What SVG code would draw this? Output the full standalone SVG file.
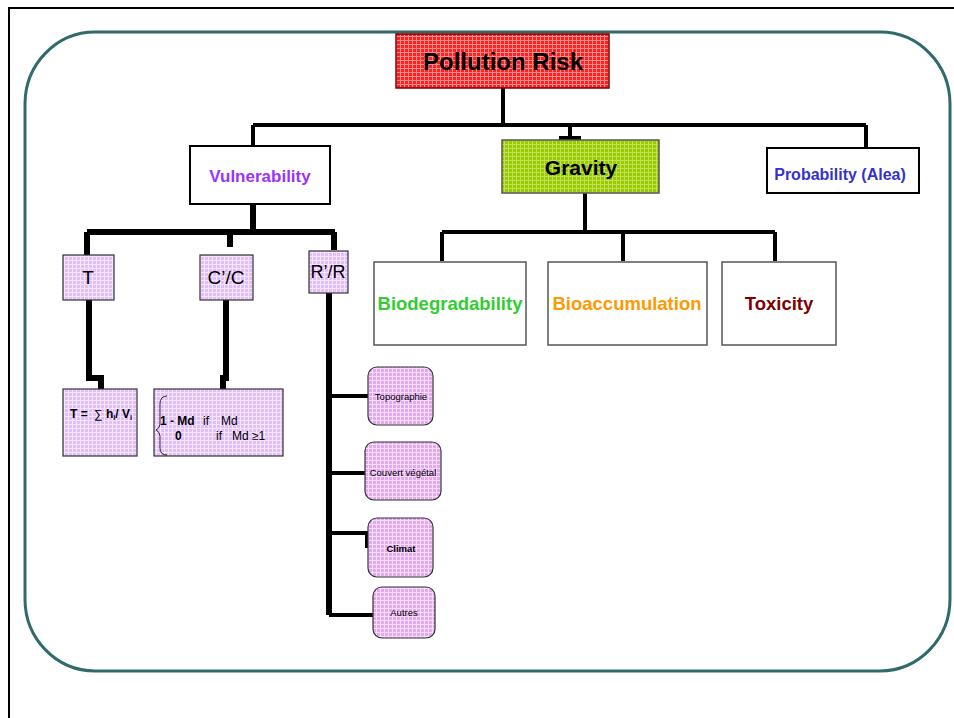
<svg xmlns="http://www.w3.org/2000/svg" width="954" height="718" viewBox="0 0 954 718">
<defs>
<pattern id="pRed" width="4" height="4" patternUnits="userSpaceOnUse">
<rect width="4" height="4" fill="#ff2020"/>
<path d="M0 0.5H4M0.5 0V4" stroke="#ff8c8c" stroke-width="1"/>
</pattern>
<pattern id="pGreen" width="4" height="4" patternUnits="userSpaceOnUse">
<rect width="4" height="4" fill="#99cc00"/>
<path d="M0 0.5H4M0.5 0V4" stroke="#c4e05a" stroke-width="1"/>
</pattern>
<pattern id="pLav" width="4" height="4" patternUnits="userSpaceOnUse">
<rect width="4" height="4" fill="#e2bff8"/>
<path d="M0 0.5H4M0.5 0V4" stroke="#f4e6ff" stroke-width="1"/>
</pattern>
<pattern id="pPink" width="4" height="4" patternUnits="userSpaceOnUse">
<rect width="4" height="4" fill="#e4a8f0"/>
<path d="M0 0.5H4M0.5 0V4" stroke="#f6defa" stroke-width="1"/>
</pattern>
</defs>
<style>
text{font-family:"Liberation Sans",Arial,sans-serif;}
.b{font-weight:bold;}
.plain{fill:#fff;stroke:#000;stroke-width:2;}
.gray{fill:#fff;stroke:#555;stroke-width:1.5;}
.lav{fill:url(#pLav);stroke:#333;stroke-width:1.2;}
.lavr{fill:url(#pPink);stroke:#333;stroke-width:1.2;}
.c4{stroke:#000;stroke-width:4;fill:none;}
.c6{stroke:#000;stroke-width:6;fill:none;}
</style>
<rect width="954" height="718" fill="#fff"/>
<path d="M9 718V8H954" fill="none" stroke="#000" stroke-width="2"/>
<rect x="25" y="32" width="925" height="639" rx="70" ry="72" fill="none" stroke="#306a6a" stroke-width="3"/>

<g id="connectors">
<path class="c4" d="M503 88V125M253 125H866M253 125V146M570 125V138M559 138H581M866 125V148"/>
<path class="c4" d="M585 193V232M442 232H775M442 232V261M623 232V261M775 232V261"/>
<path class="c6" d="M253 204V232M87 232H335M87 232V255M230 232V247M334 232V250"/>
<path class="c6" d="M89 300V378H101V389"/>
<path class="c6" d="M226 300V378H223V389"/>
<path class="c6" d="M329 293V615"/>
<path class="c4" d="M329 396H375M329 473H367M329 533H367V548M329 615H376"/>
</g>

<g id="pollution-risk">
<rect x="396" y="34" width="213" height="54" fill="url(#pRed)" stroke="#7a0000" stroke-width="1.5"/>
<text x="503" y="70" font-size="24" class="b" text-anchor="middle">Pollution Risk</text>
</g>
<g id="vulnerability">
<rect class="plain" x="190" y="146" width="140" height="58"/>
<text x="260" y="182" font-size="17" class="b" fill="#9933ff" text-anchor="middle">Vulnerability</text>
</g>
<g id="gravity">
<rect x="502" y="140" width="157" height="53" fill="url(#pGreen)" stroke="#555" stroke-width="1.5"/>
<text x="581" y="175" font-size="21" class="b" text-anchor="middle">Gravity</text>
</g>
<g id="probability">
<rect class="plain" x="767" y="148" width="152" height="45" stroke-width="1.5"/>
<text x="840" y="180" font-size="16" class="b" fill="#3333cc" text-anchor="middle">Probability (Alea)</text>
</g>
<g id="biodegradability">
<rect class="gray" x="374" y="262" width="152" height="83"/>
<text x="450" y="310" font-size="18.5" class="b" fill="#33cc33" text-anchor="middle">Biodegradability</text>
</g>
<g id="bioaccumulation">
<rect class="gray" x="548" y="262" width="159" height="83"/>
<text x="627" y="310" font-size="18.5" class="b" fill="#ff9900" text-anchor="middle">Bioaccumulation</text>
</g>
<g id="toxicity">
<rect class="gray" x="722" y="262" width="114" height="83"/>
<text x="779" y="310" font-size="18.5" class="b" fill="#800000" text-anchor="middle">Toxicity</text>
</g>
<g id="t">
<rect class="lav" x="63" y="255" width="51" height="45"/>
<text x="88" y="284" font-size="19" text-anchor="middle">T</text>
</g>
<g id="cc">
<rect class="lav" x="200" y="255" width="53" height="45"/>
<text x="226" y="284" font-size="19" text-anchor="middle">C’/C</text>
</g>
<g id="rr">
<rect class="lav" x="309" y="251" width="39" height="42"/>
<text x="328" y="278" font-size="18" text-anchor="middle">R’/R</text>
</g>
<g id="formula-t">
<rect class="lav" x="63" y="389" width="74" height="67"/>
<text x="70" y="418" font-size="12" class="b">T = <tspan font-weight="normal" dx="3">∑</tspan> h<tspan font-size="7.5" dy="2">i</tspan><tspan dy="-2">/ V</tspan><tspan font-size="7.5" dy="2">i</tspan></text>
</g>
<g id="formula-c">
<rect class="lav" x="154" y="389" width="129" height="67"/>
<path d="M167 396Q160 396 160 404V424Q160 428 156 430Q160 432 160 436V448Q160 455 167 455" fill="none" stroke="#000" stroke-width="0.8"/>
<text x="160" y="425" font-size="12"><tspan class="b">1 - Md</tspan><tspan x="203">if</tspan><tspan x="221">Md</tspan></text>
<text x="175" y="440" font-size="12"><tspan class="b">0</tspan><tspan x="216">if</tspan><tspan x="232">Md ≥1</tspan></text>
</g>
<g id="topographie">
<rect class="lavr" x="368" y="367" width="65" height="58" rx="9"/>
<text x="401" y="400" font-size="9.5" text-anchor="middle">Topographie</text>
</g>
<g id="couvert">
<rect class="lavr" x="365" y="442" width="76" height="58" rx="9"/>
<text x="403" y="476" font-size="9.5" text-anchor="middle">Couvert végétal</text>
</g>
<g id="climat">
<rect class="lavr" x="368" y="518" width="65" height="59" rx="9"/>
<text x="401" y="552" font-size="9.5" class="b" text-anchor="middle">Climat</text>
</g>
<g id="autres">
<rect class="lavr" x="373" y="587" width="62" height="51" rx="9"/>
<text x="404" y="616" font-size="9.5" text-anchor="middle">Autres</text>
</g>
</svg>
